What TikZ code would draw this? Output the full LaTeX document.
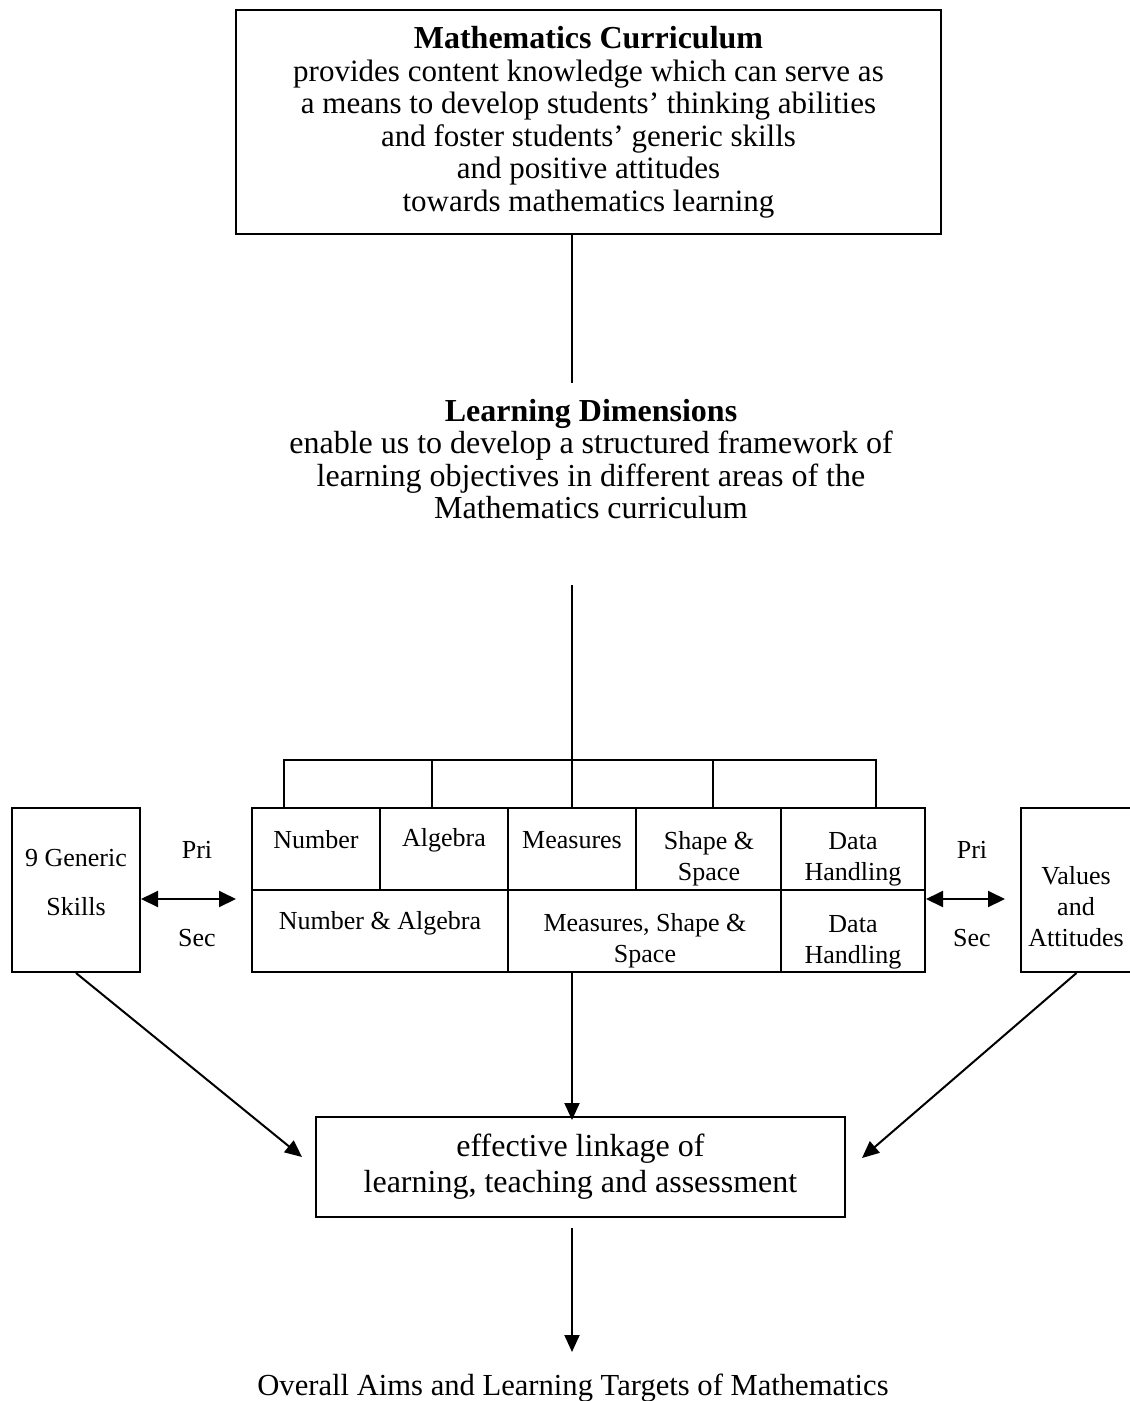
\documentclass[tikz,border=0pt]{standalone}
\usepackage{fontspec}
\setmainfont{Liberation Serif}
\usetikzlibrary{arrows.meta}
\begin{document}
\begin{tikzpicture}[x=1pt,y=-1pt,
  box/.style={draw, line width=2pt, inner sep=0pt},
  bigtxt/.style={font=\fontsize{31}{32.5}\selectfont, align=center, inner sep=0pt},
  ldtxt/.style={font=\fontsize{32}{32.5}\selectfont, align=center, inner sep=0pt},
  etxt/.style={font=\fontsize{32}{36}\selectfont, align=center, inner sep=0pt},
  smalltxt/.style={font=\fontsize{26}{31}\selectfont, align=center, inner sep=0pt},
  cell/.style={draw, line width=2pt, inner sep=0pt, minimum height=82pt},
  conn/.style={line width=1.5pt},
  arr/.style={line width=2pt, -{Triangle[length=17pt,width=15pt]}},
  darr/.style={line width=2pt, {Triangle[length=17pt,width=16pt]}-{Triangle[length=17pt,width=16pt]}}]
\useasboundingbox (0,0) rectangle (1130,1401);

% top box
\node[box, bigtxt, minimum width=705pt, minimum height=224pt] (top) at (588.5,122)
  {{\fontsize{32}{32.5}\selectfont\textbf{Mathematics Curriculum}}\\provides content knowledge which can serve as\\a means to develop students’ thinking abilities\\and foster students’ generic skills\\and positive attitudes\\towards mathematics learning};

% learning dimensions
\node[ldtxt] (ld) at (591,459)
  {\textbf{Learning Dimensions}\\enable us to develop a structured framework of\\learning objectives in different areas of the\\Mathematics curriculum};

\coordinate (ldtop) at (572,383);
\coordinate (ldbot) at (572,585);
\coordinate (b1) at (284,760);
\coordinate (b2) at (432,760);
\coordinate (b4) at (713,760);
\coordinate (b5) at (876,760);

% table cells
\node[cell, minimum width=128pt] (num) at (316,849) {};
\node[cell, minimum width=128pt] (alg) at (444,849) {};
\node[cell, minimum width=128pt] (meas) at (572,849) {};
\node[cell, minimum width=145pt] (shp) at (708.5,849) {};
\node[cell, minimum width=144pt] (dh1) at (853,849) {};
\node[cell, minimum width=256pt] (na) at (380,931) {};
\node[cell, minimum width=273pt] (mss) at (644.5,931) {};
\node[cell, minimum width=144pt] (dh2) at (853,931) {};

\node[smalltxt] (tnum) at (316,840) {Number};
\node[smalltxt] (talg) at (444,840) {Algebra};
\node[smalltxt] (tmeas) at (572,840) {Measures};
\node[smalltxt] (tshp) at (709,859) {Shape \&\\Space};
\node[smalltxt] (tdh1) at (853,859) {Data\\Handling};
\node[smalltxt] (tna) at (380,923) {Number \& Algebra};
\node[smalltxt] (tmss) at (645,941) {Measures, Shape \&\\Space};
\node[smalltxt] (tdh2) at (853,942) {Data\\Handling};

% side boxes
\node[box, minimum width=128pt, minimum height=164pt] (lbox) at (76,890) {};
\node[smalltxt] (tlbox) at (76,883) {9 Generic\\[18pt]Skills};
\node[box, minimum width=111pt, minimum height=164pt] (rbox) at (1076.5,890) {};
\node[smalltxt] (trbox) at (1076,907) {Values\\and\\Attitudes};

\node[smalltxt] (pri1) at (197,850) {Pri};
\node[smalltxt] (sec1) at (197,938) {Sec};
\node[smalltxt] (pri2) at (972,850) {Pri};
\node[smalltxt] (sec2) at (972,938) {Sec};

% bottom box
\node[box, etxt, minimum width=529pt, minimum height=100pt] (ebox) at (580.5,1167)
  {effective linkage of\\learning, teaching and assessment};

\node[font=\fontsize{30.6}{33}\selectfont, inner sep=0pt] (aims) at (573,1388) {Overall Aims and Learning Targets of Mathematics};

\coordinate (ltip) at (302,1157);
\coordinate (rtip) at (862,1158);

% connectors
\draw[conn] (ldtop |- top.south) -- (ldtop);
\draw[conn] (ldbot) -- (meas.north);
\draw[conn] (b1 |- num.north) -- (b1) -- (b5) -- (b5 |- dh1.north);
\draw[conn] (b2) -- (b2 |- alg.north);
\draw[conn] (b4) -- (b4 |- shp.north);

\draw[darr] (lbox.east |- 0,899) -- (236,899);
\draw[darr] (dh2.east |- 0,899) -- (1005,899);

\draw[arr] (ldbot |- mss.south) -- ([yshift=-4pt]ldbot |- ebox.north);
\draw[arr] (lbox.south) -- (ltip);
\draw[arr] (rbox.south) -- (rtip);
\draw[arr, shorten <=10pt] (ldbot |- ebox.south) -- (572,1352);
\end{tikzpicture}
\end{document}
